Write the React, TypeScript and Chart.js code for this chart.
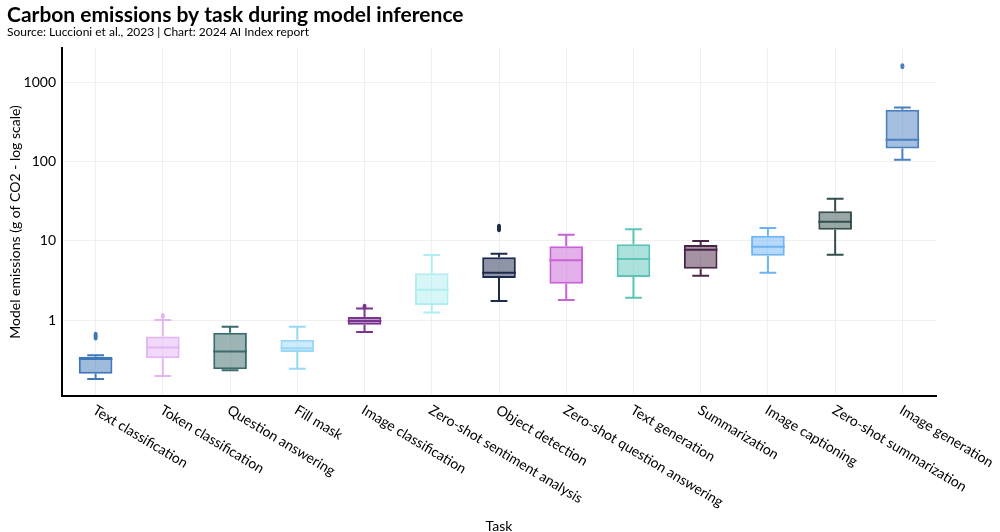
import React, { useEffect, useRef } from 'react';
import { Chart, registerables } from 'chart.js';

Chart.register(...registerables);

const tasks = [
  'Text classification',
  'Token classification',
  'Question answering',
  'Fill mask',
  'Image classification',
  'Zero-shot sentiment analysis',
  'Object detection',
  'Zero-shot question answering',
  'Text generation',
  'Summarization',
  'Image captioning',
  'Zero-shot summarization',
  'Image generation',
];

const whiskerLow = [0.18, 0.197, 0.232, 0.243, 0.705, 1.24, 1.74, 1.79, 1.91, 3.62, 3.95, 6.66, 105];
const q1 = [0.21, 0.33, 0.239, 0.395, 0.873, 1.55, 3.39, 2.87, 3.49, 4.44, 6.47, 13.8, 146];
const median = [0.322, 0.45, 0.4, 0.44, 0.97, 2.41, 3.95, 5.66, 5.88, 7.7, 8.4, 17.4, 188];
const q3 = [0.344, 0.62, 0.69, 0.565, 1.09, 3.88, 6.17, 8.5, 9.0, 8.83, 11.6, 23.5, 449];
const whiskerHigh = [0.359, 1.0, 0.82, 0.82, 1.4, 6.6, 6.86, 11.9, 14.0, 9.9, 14.5, 33.9, 481];
const outliers: number[][] = [[0.6, 0.65], [1.12], [], [], [1.47], [], [14.0, 15.0], [], [], [], [], [], [1585]];

const yTicks = [1, 10, 100, 1000];

const borderColors = [
  '#3f78b8', '#e3b5f3', '#3b6b6b', '#9ad8f8', '#7a3490', '#b0eef0', '#1e2b4d',
  '#c862d6', '#5cc3b9', '#4b2548', '#6db3f5', '#354f4f', '#4a80c0',
];
const fillColors = borderColors.map((c) => c + '80');

const FONT = 'Lato, "Noto Sans", sans-serif';

export default function App() {
  const ref = useRef<HTMLCanvasElement | null>(null);

  useEffect(() => {
    document.body.style.margin = '0';
    const boxPlugin = {
      id: 'boxExtras',
      afterDatasetsDraw(chart: any) {
        const ctx = chart.ctx;
        const y = chart.scales.y;
        const meta = chart.getDatasetMeta(0);
        meta.data.forEach((bar: any, i: number) => {
          const cx = bar.x;
          const w = bar.width;
          const col = borderColors[i];
          ctx.save();
          ctx.strokeStyle = col;
          ctx.lineWidth = 2;
          const yLo = y.getPixelForValue(whiskerLow[i]);
          const yQ1 = y.getPixelForValue(q1[i]);
          const yQ3 = y.getPixelForValue(q3[i]);
          const yHi = y.getPixelForValue(whiskerHigh[i]);
          const yMed = y.getPixelForValue(median[i]);
          ctx.beginPath();
          ctx.moveTo(cx, yQ1);
          ctx.lineTo(cx, yLo);
          ctx.moveTo(cx, yQ3);
          ctx.lineTo(cx, yHi);
          ctx.moveTo(cx - w / 4, yLo);
          ctx.lineTo(cx + w / 4, yLo);
          ctx.moveTo(cx - w / 4, yHi);
          ctx.lineTo(cx + w / 4, yHi);
          ctx.moveTo(cx - w / 2, yMed);
          ctx.lineTo(cx + w / 2, yMed);
          ctx.stroke();
          ctx.fillStyle = col;
          outliers[i].forEach((v) => {
            const py = y.getPixelForValue(v);
            ctx.beginPath();
            ctx.ellipse(cx, py, 2, 3, 0, 0, Math.PI * 2);
            ctx.fill();
          });
          ctx.restore();
        });
      },
      afterDraw(chart: any) {
        const ctx = chart.ctx;
        const x = chart.scales.x;
        const area = chart.chartArea;
        ctx.save();
        ctx.fillStyle = '#000';
        ctx.textAlign = 'left';
        ctx.textBaseline = 'alphabetic';
        ctx.font = `bold 21px ${FONT}`;
        ctx.fillText('Carbon emissions by task during model inference', 7, 22);
        ctx.font = `12px ${FONT}`;
        ctx.fillText('Source: Luccioni et al., 2023 | Chart: 2024 AI Index report', 7, 36);

        ctx.font = `14px ${FONT}`;
        tasks.forEach((t, i) => {
          const px = x.getPixelForTick(i);
          ctx.save();
          ctx.translate(px + 2, 403);
          ctx.rotate((31 * Math.PI) / 180);
          ctx.textAlign = 'left';
          ctx.textBaseline = 'top';
          ctx.fillText(t, 0, 0);
          ctx.restore();
        });

        ctx.textAlign = 'center';
        ctx.textBaseline = 'middle';
        ctx.fillText('Task', (area.left + area.right) / 2, 526);

        ctx.save();
        ctx.translate(15, (area.top + area.bottom) / 2);
        ctx.rotate(-Math.PI / 2);
        ctx.fillText('Model emissions (g of CO2 - log scale)', 0, 0);
        ctx.restore();
        ctx.restore();
      },
    };

    const chart = new Chart(ref.current as HTMLCanvasElement, {
      type: 'bar',
      data: {
        labels: tasks,
        datasets: [
          {
            data: tasks.map((_, i) => [q1[i], q3[i]]) as any,
            backgroundColor: fillColors,
            borderColor: borderColors,
            borderWidth: 2,
            borderSkipped: false,
            barPercentage: 0.5,
            categoryPercentage: 1,
          },
        ],
      },
      options: {
        animation: false,
        responsive: true,
        maintainAspectRatio: false,
        layout: { padding: { top: 48, right: 64, left: 0, bottom: 0 } },
        plugins: {
          legend: { display: false },
          tooltip: { enabled: false },
          title: { display: false },
        },
        scales: {
          x: {
            type: 'category',
            offset: true,
            grid: { offset: false, color: '#efefef', drawTicks: false },
            border: { display: true, color: '#000', width: 2 },
            ticks: { display: false },
            afterFit: (s: any) => {
              s.height = 136;
            },
          },
          y: {
            type: 'logarithmic',
            min: 0.11,
            max: 2700,
            afterBuildTicks: (s: any) => {
              s.ticks = yTicks.map((v) => ({ value: v }));
            },
            ticks: {
              color: '#000',
              font: { family: FONT, size: 14 },
              padding: 6,
              callback: (v: any) => String(v),
            },
            grid: { color: '#efefef', drawTicks: false },
            border: { display: true, color: '#000', width: 2 },
            afterFit: (s: any) => {
              s.width = 62;
            },
          },
        },
      } as any,
      plugins: [boxPlugin],
    });
    return () => chart.destroy();
  }, []);

  return (
    <div style={{ position: 'fixed', left: 0, top: 0, width: 1000, height: 532 }}>
      <canvas ref={ref} />
    </div>
  );
}
